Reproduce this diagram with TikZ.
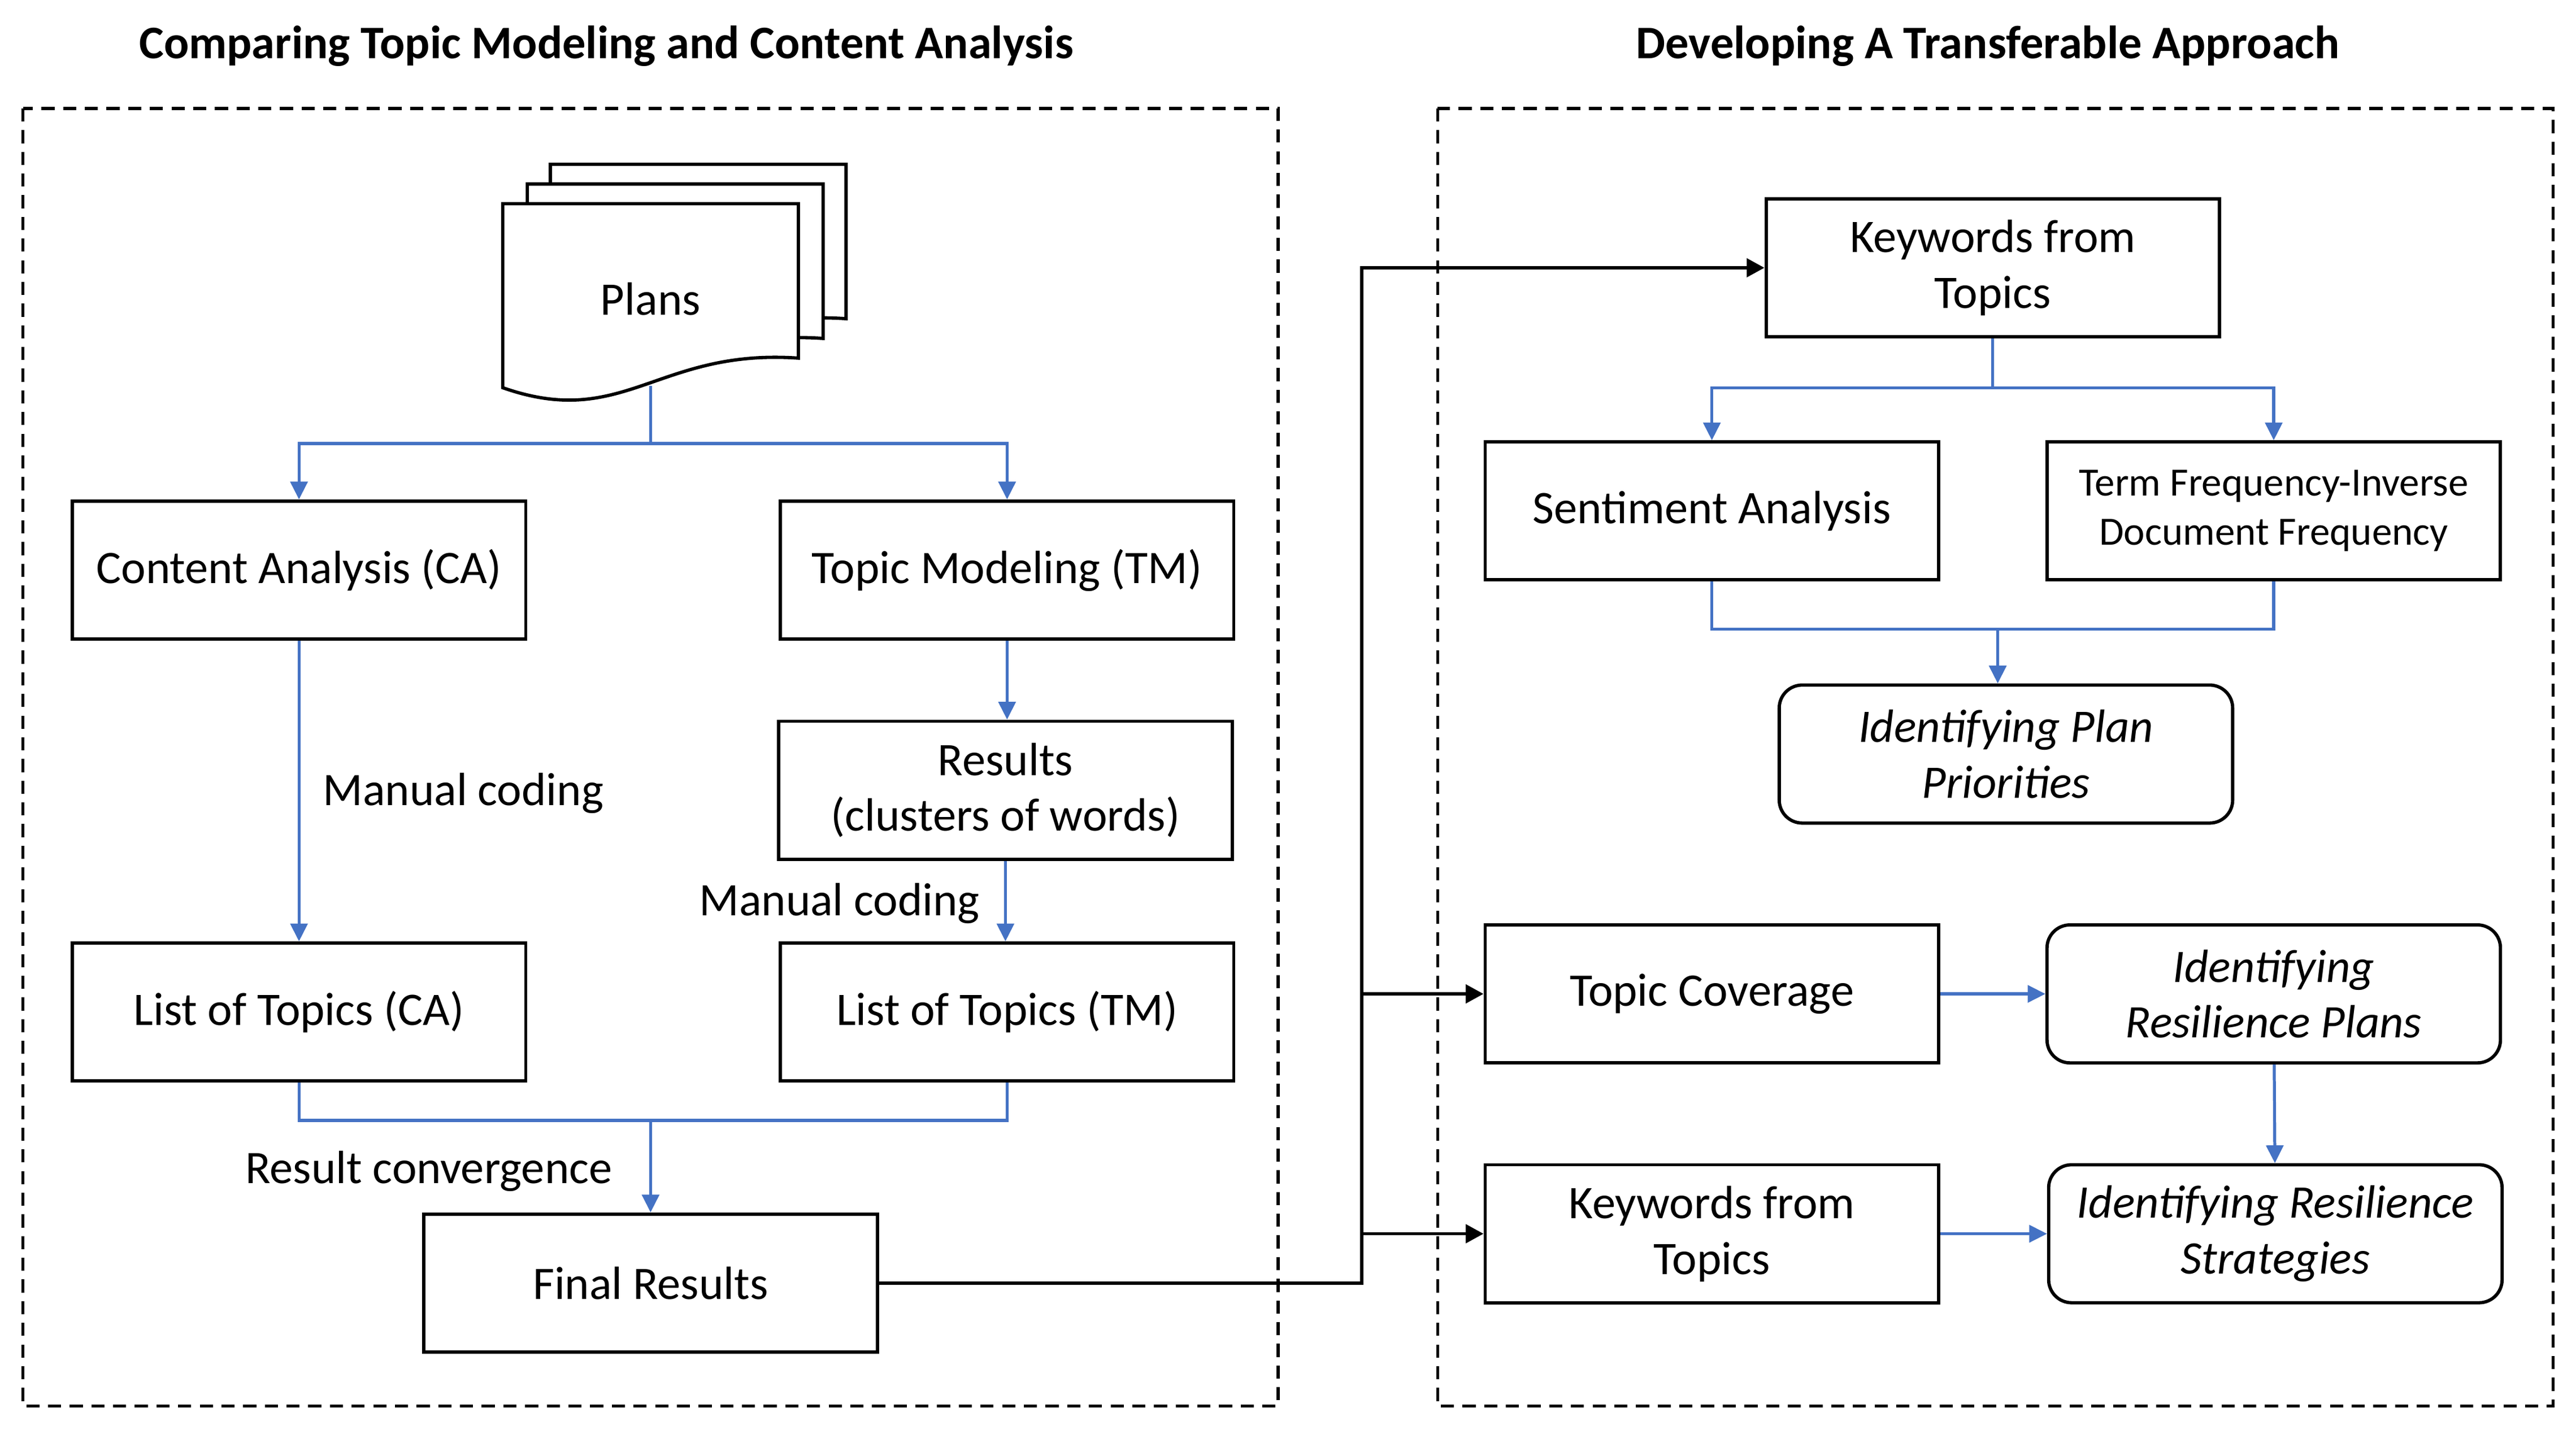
\documentclass[tikz,border=0pt]{standalone}
\usepackage{fontspec}
\setmainfont{Carlito}
\usetikzlibrary{arrows.meta}
\definecolor{lineblue}{HTML}{4472C4}

\begin{document}
\begin{tikzpicture}[x=0.5pt,y=-0.5pt,
    box/.style={draw,line width=1pt,minimum width=138pt,minimum height=42pt,align=center,inner sep=2pt,font=\fontsize{14.2}{17}\selectfont},
    roundbox/.style={box,rounded corners=7pt,font=\fontsize{14.2}{17}\selectfont\itshape},
    frame/.style={line width=0.9pt,dash pattern=on 4pt off 2.6pt},
    blueline/.style={lineblue,line width=0.9pt},
    bluearrow/.style={blueline,-{Triangle[length=5.4pt,width=5.2pt]}},
    blackarrow/.style={line width=1pt,-{Triangle[length=5.4pt,width=5.6pt]}},
    heading/.style={font=\fontsize{14.2}{17}\selectfont\bfseries},
    note/.style={font=\fontsize{14.2}{17}\selectfont}]
    \useasboundingbox (0,0) rectangle (1568,872.6);

    \node[heading] (lefttitle) at (369,28) {Comparing Topic Modeling and Content Analysis};
    \node[heading] (righttitle) at (1210,28) {Developing A Transferable Approach};
    \draw[frame] (14,66) rectangle (778,856);
    \draw[frame] (875,66) rectangle (1554,856);

    \foreach \dx/\dy in {29/-24,15/-12,0/0}
        \draw[line width=1pt,fill=white,shift={(\dx,\dy)}] (306,124) -- (486,124) -- (486,218)
            .. controls (400,212) and (380,262) .. (306,236) -- cycle;
    \node[note] (plans) at (396,182) {Plans};
    \coordinate (plansbot) at (396,235);
    \coordinate (split) at (396,270);

    \node[box] (ca) at (182,347) {Content Analysis (CA)};
    \node[box] (tm) at (613,347) {Topic Modeling (TM)};
    \node[box] (results) at (612,481) {Results\\(clusters of words)};
    \node[box] (listca) at (182,616) {List of Topics (CA)};
    \node[box] (listtm) at (613,616) {List of Topics (TM)};
    \node[box] (final) at (396,781) {Final Results};
    \coordinate (merge) at (396,682);

    \draw[blueline] (plansbot) -- (split);
    \draw[bluearrow] (split) -| (ca.north);
    \draw[bluearrow] (split) -| (tm.north);
    \draw[bluearrow] (ca) -- (listca);
    \node[note] (codingca) at (282,483) {Manual coding};
    \draw[bluearrow] (tm.south) -- (tm.south |- results.north);
    \draw[bluearrow] (results.south) -- (results.south |- listtm.north);
    \node[note] (codingtm) at (511,550) {Manual coding};
    \draw[blueline] (listca.south) |- (merge) -| (listtm.south);
    \draw[bluearrow] (merge) -- (final.north);
    \node[note] (converge) at (261,713) {Result convergence};

    \node[box] (kw) at (1213,163) {Keywords from\\Topics};
    \node[box] (senti) at (1042,311) {Sentiment Analysis};
    \node[box,font=\fontsize{12.2}{15}\selectfont] (tfidf) at (1384,311) {Term Frequency-Inverse\\Document Frequency};
    \node[roundbox] (prio) at (1221,459) {Identifying Plan\\Priorities};
    \node[box] (cover) at (1042,605) {Topic Coverage};
    \node[roundbox] (resplans) at (1384,605) {Identifying\\Resilience Plans};
    \node[box] (kwb) at (1042,751) {Keywords from\\Topics};
    \node[roundbox] (resstrat) at (1385,751) {Identifying Resilience\\Strategies};
    \coordinate (trunk) at (829,163);
    \coordinate (kwsplit) at (1213,236);
    \coordinate (kwmerge) at (1216,383);

    \draw[blackarrow] (final.east) -| (trunk) -- (kw.west);
    \draw[blackarrow] (trunk |- cover.west) -- (cover.west);
    \draw[blackarrow] (trunk |- kwb.west) -- (kwb.west);

    \draw[blueline] (kw.south) -- (kwsplit);
    \draw[bluearrow] (kwsplit) -| (senti.north);
    \draw[bluearrow] (kwsplit) -| (tfidf.north);
    \draw[blueline] (senti.south) |- (kwmerge) -| (tfidf.south);
    \draw[bluearrow] (kwmerge) -- (kwmerge |- prio.north);
    \draw[bluearrow] (cover) -- (resplans);
    \draw[bluearrow] (resplans) -- (resstrat);
    \draw[bluearrow] (kwb) -- (resstrat);
\end{tikzpicture}
\end{document}
